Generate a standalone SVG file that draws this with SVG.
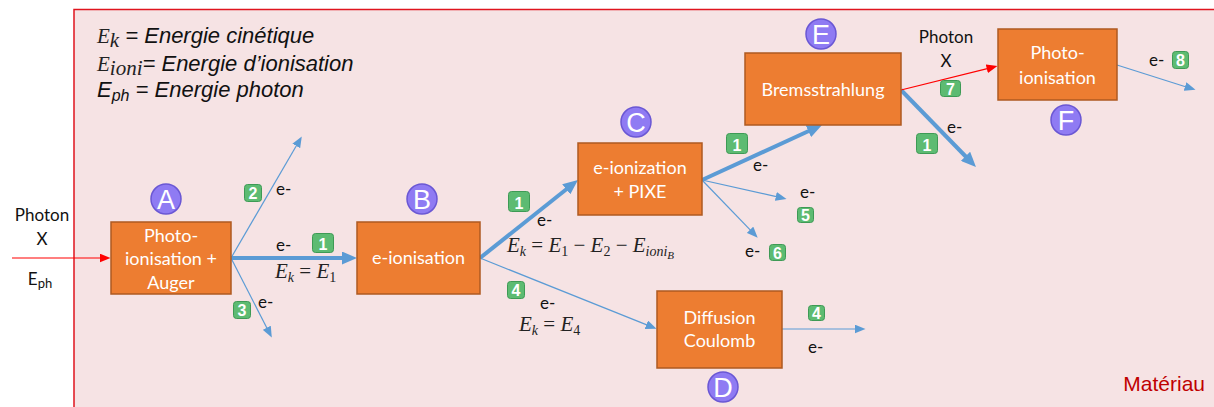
<svg xmlns="http://www.w3.org/2000/svg" width="1214" height="407" viewBox="0 0 1214 407">
<style>
.box{fill:#ED7D31;stroke:#AE5A21;stroke-width:1.5}
.bt{font-family:Lato,"Open Sans",sans-serif;font-size:18px;fill:#fff;text-anchor:middle}
.t{font-family:Lato,"Open Sans",sans-serif;font-size:17px;fill:#111}
.tc{font-family:Lato,"Open Sans",sans-serif;font-size:17px;fill:#111;text-anchor:middle}
.circ{fill:#8F7BF3;stroke:#6A57D4;stroke-width:1.5}
.ct{font-family:"Liberation Sans",Arial,sans-serif;font-size:27px;fill:#fff;text-anchor:middle}
.bg{fill:#5DBB72;stroke:#3E9A55;stroke-width:1}
.bgt{font-family:"Liberation Sans",Arial,sans-serif;font-size:16px;font-weight:bold;fill:#fff;text-anchor:middle}
.thick{stroke:#5B9BD5;stroke-width:4;fill:none}
.thin{stroke:#5B9BD5;stroke-width:1.2;fill:none}
.red{stroke:#FF0000;stroke-width:1.2;fill:none}
.math{font-family:"Liberation Serif","DejaVu Serif",serif;font-size:21px;fill:#222}
.mi{font-style:italic}
.leg{font-family:"Liberation Sans",Arial,sans-serif;font-size:22px;font-style:italic;fill:#111}
</style>
<defs>
<marker id="hThick" markerUnits="userSpaceOnUse" markerWidth="15" markerHeight="13" refX="1" refY="6.5" orient="auto"><path d="M0,0 L15,6.5 L0,13 z" fill="#5B9BD5"/></marker>
<marker id="hThin" markerUnits="userSpaceOnUse" markerWidth="11" markerHeight="9" refX="0.5" refY="4.5" orient="auto"><path d="M0,0 L11,4.5 L0,9 z" fill="#5B9BD5"/></marker>
<marker id="hRed" markerUnits="userSpaceOnUse" markerWidth="11" markerHeight="9" refX="0.5" refY="4.5" orient="auto"><path d="M0,0 L11,4.5 L0,9 z" fill="#FF0000"/></marker>
</defs>
<rect width="1214" height="407" fill="#ffffff"/>
<g id="materiau">
<rect x="74" y="9.5" width="1150" height="410" fill="#F6E3E4" stroke="#E0141E" stroke-width="1.5"/>
<text x="1205" y="391" font-family="'Liberation Sans',Arial,sans-serif" font-size="21" fill="#C00000" text-anchor="end">Matériau</text>
</g>
<g id="legend">
<text class="leg" x="97" y="43"><tspan class="math mi" font-size="25">E</tspan><tspan class="math mi" font-size="18" dy="4">k</tspan><tspan dy="-4"> = Energie cinétique</tspan></text>
<text class="leg" x="97" y="71"><tspan class="math mi" font-size="25">E</tspan><tspan class="math mi" font-size="19" dy="4">ioni</tspan><tspan dy="-4">= Energie d’ionisation</tspan></text>
<text class="leg" x="97" y="97">E<tspan font-size="16" dy="4">ph</tspan><tspan dy="-4"> = Energie photon</tspan></text>
</g>
<g id="connectors">
<line class="red" x1="12" y1="258" x2="100" y2="258" marker-end="url(#hRed)"/>
<line class="thick" x1="231" y1="258" x2="343" y2="258" marker-end="url(#hThick)"/>
<line class="thin" x1="231" y1="258" x2="296.5" y2="145.5" marker-end="url(#hThin)"/>
<line class="thin" x1="231" y1="258" x2="267" y2="328.2" marker-end="url(#hThin)"/>
<line class="thick" x1="480" y1="258" x2="567" y2="188.7" marker-end="url(#hThick)"/>
<line class="thin" x1="480" y1="258" x2="646.8" y2="324.9" marker-end="url(#hThin)"/>
<line class="thick" x1="702" y1="180" x2="809.3" y2="130.8" marker-end="url(#hThick)"/>
<line class="thin" x1="702" y1="180" x2="776.3" y2="196.6" marker-end="url(#hThin)"/>
<line class="thin" x1="702" y1="180" x2="750.4" y2="230.1" marker-end="url(#hThin)"/>
<line class="thick" x1="901" y1="90" x2="966.2" y2="157" marker-end="url(#hThick)"/>
<line class="red" x1="901" y1="90" x2="987.3" y2="68.6" marker-end="url(#hRed)"/>
<line class="thin" x1="1117" y1="65" x2="1185.5" y2="86.7" marker-end="url(#hThin)"/>
<line class="thin" x1="782" y1="329" x2="855" y2="329" marker-end="url(#hThin)"/>
</g>
<g id="labels">
<text class="tc" x="42" y="221">Photon</text>
<text class="tc" x="42" y="245">X</text>
<text class="tc" x="40" y="285">E<tspan font-size="13" dy="3">ph</tspan></text>
<text class="tc" x="946" y="43">Photon</text>
<text class="tc" x="946" y="67">X</text>
<g><rect class="bg" x="244.5" y="184.5" width="17" height="17" rx="3"/><text class="bgt" x="253" y="199">2</text></g>
<text class="t" x="276" y="195">e-</text>
<g><rect class="bg" x="312.5" y="233.5" width="21" height="19" rx="3"/><text class="bgt" x="323" y="250" font-size="19">1</text></g>
<text class="t" x="276" y="251">e-</text>
<text class="math" x="275" y="278"><tspan class="mi">E</tspan><tspan class="mi" font-size="14" dy="4">k</tspan><tspan dy="-4"> = </tspan><tspan class="mi">E</tspan><tspan font-size="14" dy="4">1</tspan></text>
<g><rect class="bg" x="233.5" y="301.5" width="17" height="17" rx="3"/><text class="bgt" x="242" y="316">3</text></g>
<text class="t" x="258" y="308">e-</text>
<g><rect class="bg" x="508.5" y="191.5" width="21" height="20" rx="3"/><text class="bgt" x="519" y="209" font-size="19">1</text></g>
<text class="t" x="537" y="226">e-</text>
<text class="math" x="507" y="252"><tspan class="mi">E</tspan><tspan class="mi" font-size="14" dy="4">k</tspan><tspan dy="-4"> = </tspan><tspan class="mi">E</tspan><tspan font-size="14" dy="4">1</tspan><tspan dy="-4"> − </tspan><tspan class="mi">E</tspan><tspan font-size="14" dy="4">2</tspan><tspan dy="-4"> − </tspan><tspan class="mi">E</tspan><tspan class="mi" font-size="14" dy="4">ioni</tspan><tspan class="mi" font-size="11" dy="3">B</tspan></text>
<g><rect class="bg" x="507.5" y="281.5" width="17" height="17" rx="3"/><text class="bgt" x="516" y="296">4</text></g>
<text class="t" x="540" y="309">e-</text>
<text class="math" x="519" y="331"><tspan class="mi">E</tspan><tspan class="mi" font-size="14" dy="4">k</tspan><tspan dy="-4"> = </tspan><tspan class="mi">E</tspan><tspan font-size="14" dy="4">4</tspan></text>
<g><rect class="bg" x="726.5" y="133.5" width="21" height="20" rx="3"/><text class="bgt" x="737" y="151" font-size="19">1</text></g>
<text class="t" x="753" y="171">e-</text>
<text class="t" x="800" y="198">e-</text>
<g><rect class="bg" x="797.5" y="207.5" width="16" height="15" rx="3"/><text class="bgt" x="805.5" y="221">5</text></g>
<text class="t" x="745" y="257">e-</text>
<g><rect class="bg" x="769.5" y="244.5" width="16" height="16" rx="3"/><text class="bgt" x="777.5" y="258.5">6</text></g>
<g><rect class="bg" x="916.5" y="133.5" width="21" height="20" rx="3"/><text class="bgt" x="927" y="151" font-size="19">1</text></g>
<text class="t" x="947" y="133">e-</text>
<g><rect class="bg" x="940.5" y="80.5" width="20" height="16" rx="3"/><text class="bgt" x="950.5" y="94.5">7</text></g>
<text class="t" x="1149" y="66">e-</text>
<g><rect class="bg" x="1172.5" y="51.5" width="16" height="17" rx="3"/><text class="bgt" x="1180.5" y="66">8</text></g>
<g><rect class="bg" x="808.5" y="305.5" width="16" height="15" rx="3"/><text class="bgt" x="816.5" y="319">4</text></g>
<text class="t" x="808" y="353">e-</text>
</g>
<g id="nodeA"><rect class="box" x="111" y="222" width="120" height="72"/><text class="bt" x="171" y="242">Photo-</text><text class="bt" x="171" y="265">ionisation +</text><text class="bt" x="171" y="289">Auger</text><circle class="circ" cx="166" cy="199" r="15"/><text class="ct" x="166" y="208.5">A</text></g>
<g id="nodeB"><rect class="box" x="357" y="222" width="123" height="72"/><text class="bt" x="418.5" y="264">e-ionisation</text><circle class="circ" cx="422" cy="199" r="15"/><text class="ct" x="422" y="208.5">B</text></g>
<g id="nodeC"><rect class="box" x="578" y="143" width="124" height="72"/><text class="bt" x="640" y="174">e-ionization</text><text class="bt" x="640" y="198">+ PIXE</text><circle class="circ" cx="636" cy="122" r="15"/><text class="ct" x="636" y="131.5">C</text></g>
<g id="nodeD"><rect class="box" x="657" y="291" width="125" height="77"/><text class="bt" x="719.5" y="324">Diffusion</text><text class="bt" x="719.5" y="347">Coulomb</text><circle class="circ" cx="723" cy="387" r="15"/><text class="ct" x="723" y="396.5">D</text></g>
<g id="nodeE"><rect class="box" x="745" y="53" width="156" height="72"/><text class="bt" x="823" y="96">Bremsstrahlung</text><circle class="circ" cx="821" cy="34" r="15"/><text class="ct" x="821" y="43.5">E</text></g>
<g id="nodeF"><rect class="box" x="998" y="29" width="119" height="71"/><text class="bt" x="1057.5" y="59">Photo-</text><text class="bt" x="1057.5" y="84">ionisation</text><circle class="circ" cx="1066" cy="120" r="15"/><text class="ct" x="1066" y="129.5">F</text></g>
</svg>
